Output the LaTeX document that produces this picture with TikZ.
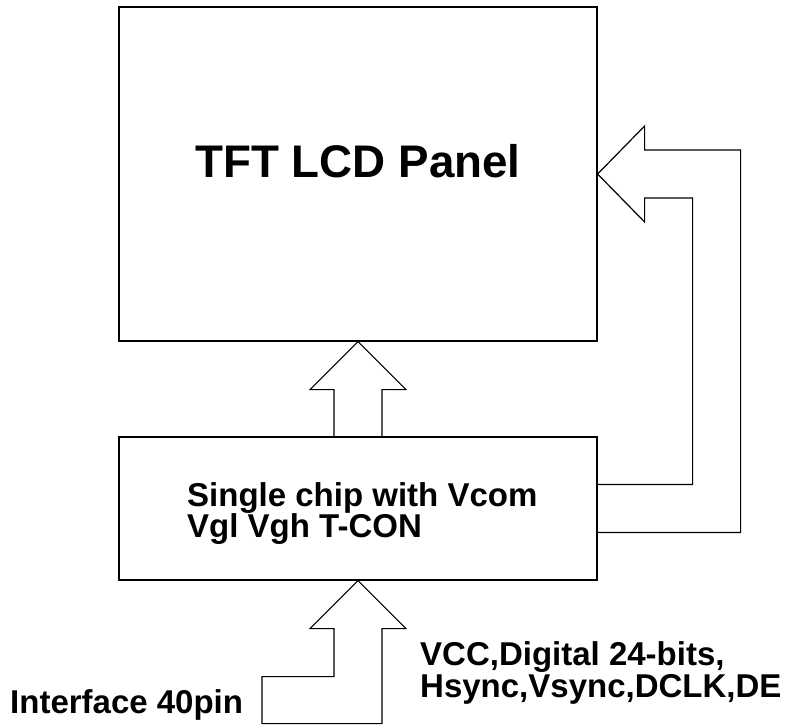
\documentclass[tikz,border=0pt]{standalone}
\usepackage{fontspec}
\setmainfont{Liberation Sans}
\usetikzlibrary{calc}
\begin{document}
\begin{tikzpicture}[x=1pt,y=-1pt,
  box/.style={draw, line width=1.2pt, minimum width=478pt, inner sep=0pt},
  blockarrow/.style={draw, line width=1.2pt, line join=miter},
  lbl/.style={inner sep=0pt, anchor=base west, font=\bfseries\fontsize{33}{31}\selectfont}]
\useasboundingbox (0,0) rectangle (786,724);
\node[box, minimum height=334pt] (panel) at (358,174) {};
\node[inner sep=0pt, anchor=base, font=\bfseries\fontsize{45.7}{50}\selectfont] (title) at (358,177) {TFT LCD Panel};
\node[box, minimum height=143pt] (chip) at (358,508.5) {};
% arrow chip -> panel
\draw[blockarrow] ($(chip.north)+(-24,0)$) |- ($(panel.south)+(-48,48)$) -- (panel.south) -- ($(panel.south)+(48,48)$) -| ($(chip.north)+(24,0)$);
% arrow chip -> panel (right side)
\draw[blockarrow] ($(chip.east)+(0,24)$) -| ($(panel.east)+(143,-24)$) -- ($(panel.east)+(47,-24)$) -- ($(panel.east)+(47,-48)$) -- (panel.east) -- ($(panel.east)+(47,48)$) -- ($(panel.east)+(47,24)$) -| ($(chip.east)+(95,-24)$) -- ($(chip.east)+(0,-24)$);
% input arrow
\draw[blockarrow] (chip.south) -- ++(48,48) -- ++(-24,0) -- ++(0,95) -- ++(-120,0) -- ++(0,-47) -- ++(72,0) -- ++(0,-48) -- ++(-24,0) -- cycle;
\node[lbl] (chip1) at (187,506) {Single chip with Vcom};
\node[lbl] (chip2) at (187,537) {Vgl Vgh T-CON};
\node[lbl] (iface) at (10,713) {Interface 40pin};
\node[lbl] (sig1) at (420,665) {VCC,Digital 24-bits,};
\node[lbl] (sig2) at (420,697) {Hsync,Vsync,DCLK,DE};
\end{tikzpicture}
\end{document}
